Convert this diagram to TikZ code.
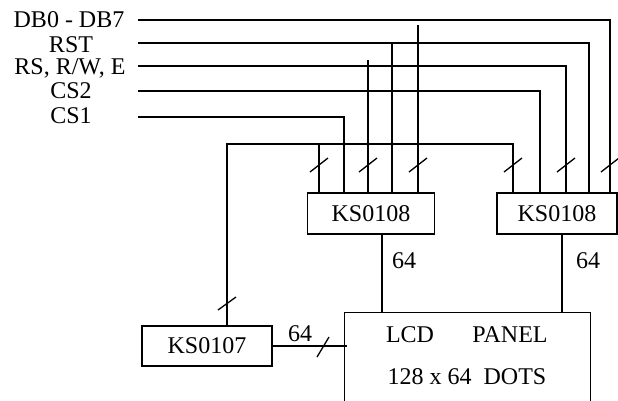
\documentclass[tikz,border=0pt]{standalone}
\usepackage{fontspec}
\setmainfont{Liberation Serif}
\begin{document}
\begin{tikzpicture}[x=1pt,y=-1pt,line width=1.3pt,
  txt/.style={inner sep=0pt,font=\fontsize{24}{24}\selectfont},
  box/.style={draw,inner sep=0pt,minimum height=41pt,font=\fontsize{24}{24}\selectfont},
  wire/.style={line width=1.3pt},
  tick/.style={line width=1.3pt}]
\useasboundingbox (0,0) rectangle (618,400);
\clip (0,0) rectangle (618,400);
% signal labels
\node[txt] (lDB)  at (69,20)  {DB0 - DB7};
\node[txt] (lRST) at (71,44.5)  {RST};
\node[txt] (lRS)  at (70,68.5)  {RS, R/W, E};
\node[txt] (lCS2) at (71,91)  {CS2};
\node[txt] (lCS1) at (71,116) {CS1};
% line starts
\coordinate (sDB)  at (138,20);
\coordinate (sRST) at (138,43);
\coordinate (sRS)  at (138,66);
\coordinate (sCS2) at (138,91);
\coordinate (sCS1) at (138,117);
% boxes
\node[box,minimum width=127pt] (ksA) at (371,213.5) {KS0108};
\node[box,minimum width=120pt] (ksB) at (557,213.5) {KS0108};
\node[box,minimum width=130pt,minimum height=40pt] (ks7) at (207,346) {KS0107};
\node[draw,minimum width=246pt,minimum height=120pt,anchor=north west] (lcd) at (344,312) {};
\node[txt] (lcdA) at (410,335) {LCD};
\node[txt] (lcdB) at (510,335) {PANEL};
\node[txt] (lcdC) at (467,377) {128 x 64\ \ DOTS};
% pin x positions
\coordinate (xA1) at (319,0);
\coordinate (xA2) at (344,0);
\coordinate (xA3) at (368,0);
\coordinate (xA4) at (392,0);
\coordinate (xA5) at (418,0);
\coordinate (xA6) at (382,0);
\coordinate (xB1) at (513,0);
\coordinate (xB2) at (540,0);
\coordinate (xB3) at (566,0);
\coordinate (xB4) at (589,0);
\coordinate (xB5) at (610,0);
\coordinate (xB6) at (562,0);
\coordinate (xK)  at (227,0);
\coordinate (bus) at (0,144);
\coordinate (tDB)  at (418,25);
\coordinate (tRST) at (392,43);
\coordinate (tRS)  at (368,60);
\coordinate (e7)   at (347,346);
% wires
\draw[wire] (sDB) -| (xB5 |- ksB.north);
\draw[wire] (sRST) -| (xB4 |- ksB.north);
\draw[wire] (sRS) -| (xB3 |- ksB.north);
\draw[wire] (sCS2) -| (xB2 |- ksB.north);
\draw[wire] (sCS1) -| (xA2 |- ksA.north);
\draw[wire] (tDB) -- (xA5 |- ksA.north);
\draw[wire] (tRST) -- (xA4 |- ksA.north);
\draw[wire] (tRS) -- (xA3 |- ksA.north);
\draw[wire] (xK |- ks7.north) |- (xB1 |- bus) -- (xB1 |- ksB.north);
\draw[wire] (xA1 |- bus) -- (xA1 |- ksA.north);
\draw[wire] (xA6 |- ksA.south) -- (xA6 |- lcd.north);
\draw[wire] (xB6 |- ksB.south) -- (xB6 |- lcd.north);
\draw[wire] (ks7.east) -- (e7);
% bus ticks
\foreach \x in {319,368,418,513,566,610} \draw[tick] (\x-9,172) -- (\x+9,158);
\draw[tick] (218,310) -- (236,297);
\draw[tick] (317,357) -- (329,337);
% widths
\node[txt] (n1) at (404,261) {64};
\node[txt] (n2) at (588,261) {64};
\node[txt] (n3) at (300,334) {64};
\end{tikzpicture}
\end{document}
